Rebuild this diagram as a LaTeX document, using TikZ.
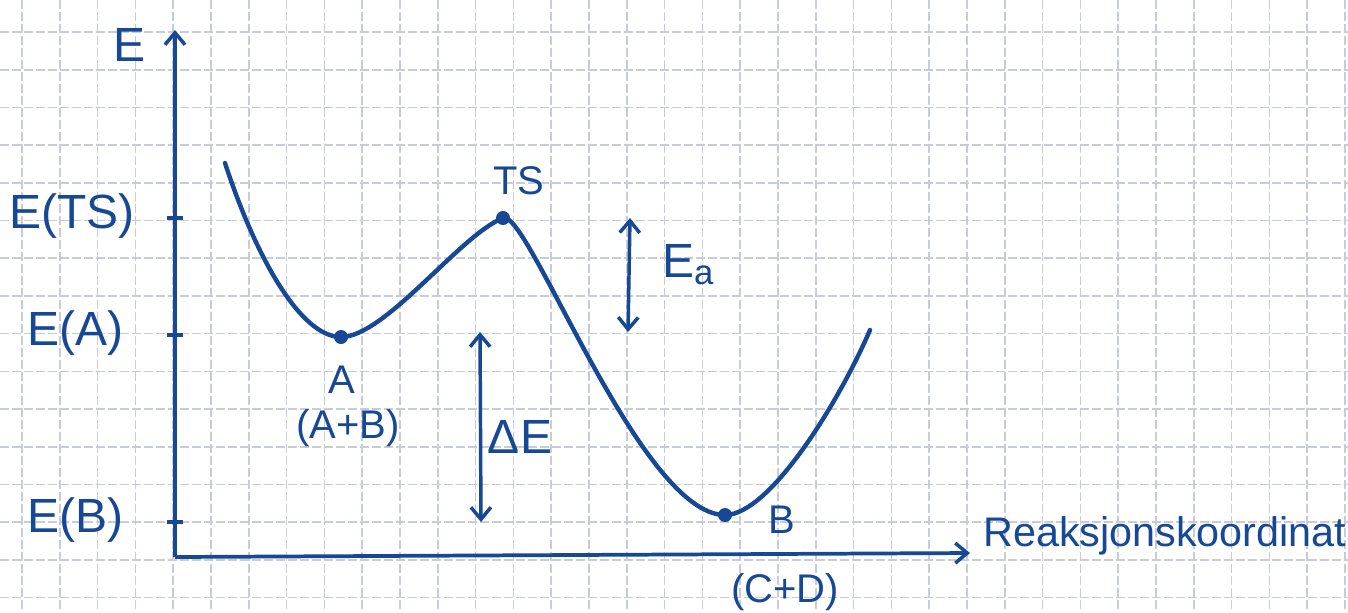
\documentclass[tikz,border=0pt]{standalone}
\usepackage{fontspec}
\setmainfont{Liberation Sans}
\usetikzlibrary{arrows.meta}
\definecolor{ink}{RGB}{22,72,150}
\definecolor{gridc}{RGB}{200,204,215}
\tikzset{
  gridline/.style={gridc, line width=1.2pt, dash pattern=on 7pt off 2pt},
  barb/.style={Straight Barb[length=9pt,width=15pt,line width=2.6pt]},
  axis/.style={ink, line width=2.8pt, -{Straight Barb[length=9pt,width=15pt,line width=2.6pt]}},
  curve/.style={ink, line width=3.3pt, line cap=round},
  tick/.style={ink, line width=2.6pt},
  dbl/.style={ink, line width=2.6pt, {Straight Barb[length=9pt,width=15pt,line width=2.6pt]}-{Straight Barb[length=9pt,width=15pt,line width=2.6pt]}},
  big/.style={ink, inner sep=0pt, font=\fontsize{36}{40}\selectfont},
  small/.style={ink, inner sep=0pt, font=\fontsize{30}{34}\selectfont},
  dot/.style={circle, fill=ink, inner sep=0pt, minimum size=10.5pt},
}
\begin{document}
\begin{tikzpicture}[x=0.75pt,y=-0.75pt]
\useasboundingbox (0,0) rectangle (1348,612);
\fill[white] (0,0) rectangle (1348,612);
% grid
\foreach \i in {0,...,35} {\draw[gridline] ({22+37.8*\i},0) -- ({22+37.8*\i},612);}
\foreach \j in {0,...,16} {\draw[gridline] (0,{32+37.7*\j}) -- (1348,{32+37.7*\j});}
% axes
\coordinate (O) at (175,557);
\coordinate (ytop) at (175,30);
\coordinate (xend) at (970,553);
\draw[axis] (O) -- (ytop);
\draw[axis] (O) -- (xend);
\node[big] (E) at (130,45) {E};
\node[small, anchor=west, font=\fontsize{31}{34}\selectfont] (rk) at (983,536) {Reaksjonskoordinat};
% ticks
\coordinate (tTS) at (175,218);
\coordinate (tA) at (175,335);
\coordinate (tB) at (175,522);
\foreach \t in {tTS,tA,tB} {\draw[tick] ([xshift=-6pt]\t) -- ([xshift=6pt]\t);}
\node[big] (lTS) at (72,216) {E(TS)};
\node[big] (lA) at (75,333) {E(A)};
\node[big] (lB) at (75,520) {E(B)};
% curve
\coordinate (p0) at (225,163);
\coordinate (pA) at (341,337);
\coordinate (pTS) at (503,218);
\coordinate (pB) at (725,515);
\coordinate (pE) at (870,330);
\draw[curve] (p0) .. controls (255,255) and (300,337) .. (pA)
  .. controls (385,337) and (460,235) .. (pTS)
  .. controls (528,208) and (640,515) .. (pB)
  .. controls (770,515) and (840,400) .. (pE);
\node[dot] (dA) at (pA) {};
\node[dot] (dTS) at (pTS) {};
\node[dot] (dB) at (pB) {};
% labels
\node[small] (TS) at (519,181) {TS};
\node[small] (A) at (342,380) {A};
\node[small] (AB) at (348,428) {(A+B)};
\node[small] (B) at (782,520) {B};
\node[small] (CD) at (785,592) {(C+D)};
% Ea
\coordinate (ea1) at (630,218);
\coordinate (ea2) at (628,332);
\draw[dbl] (ea1) -- (ea2);
\node[big] (Ea) at (688,265) {E\textsubscript{\fontsize{26}{28}\selectfont a}};
% Delta E
\coordinate (de1) at (480,332);
\coordinate (de2) at (481,522);
\draw[dbl] (de1) -- (de2);
\node[big] (dE) at (520,437) {ΔE};
\end{tikzpicture}
\end{document}
